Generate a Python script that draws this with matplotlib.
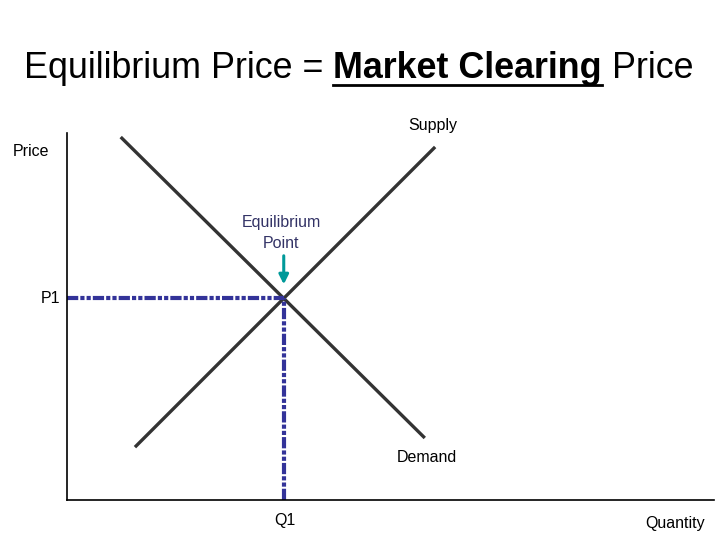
import matplotlib.pyplot as plt
from matplotlib.lines import Line2D

plt.rcParams['font.family'] = ['Liberation Sans', 'DejaVu Sans']

# curve end points (quantity, price), unitless 0..10 scale
demand_q = [0.83, 5.53]
demand_p = [9.89, 1.69]
supply_q = [1.05, 5.69]
supply_p = [1.44, 9.62]
eq_q = 3.35
eq_p = 5.50

fig = plt.figure(figsize=(7.2, 5.4), dpi=100)
ax = fig.add_axes([67 / 720, 40 / 540, 647 / 720, 367 / 540])
ax.set_xlim(0, 10)
ax.set_ylim(0, 10)
ax.spines['top'].set_visible(False)
ax.spines['right'].set_visible(False)
ax.spines['left'].set_linewidth(1.2)
ax.spines['bottom'].set_linewidth(1.2)
ax.set_xticks([])
ax.set_yticks([])

line_col = '#333333'
dash_col = '#333399'
ax.plot(demand_q, demand_p, color=line_col, lw=2.4, solid_capstyle='butt')
ax.plot(supply_q, supply_p, color=line_col, lw=2.4, solid_capstyle='butt')

dash = (2.7, 0.5, 1, 0.5, 1, 0.5)
ax.plot([0, eq_q], [eq_p, eq_p], color=dash_col, lw=3, dashes=dash, clip_on=False)
ax.plot([eq_q, eq_q], [0, eq_p], color=dash_col, lw=3, dashes=dash, clip_on=False)

ax.annotate('', xy=(eq_q, 5.80), xytext=(eq_q, 6.73),
            arrowprops=dict(arrowstyle='-|>', color='#009999', lw=2.2, mutation_scale=14))

lab_col = '#333366'
fs_lab = 11.5
ax.text(eq_q - 0.04, 7.28, 'Equilibrium\nPoint', ha='center', va='center', fontsize=fs_lab,
        color=lab_col, linespacing=1.45)
ax.text(5.66, 10.2, 'Supply', ha='center', va='center', fontsize=fs_lab, color='black')
ax.text(5.56, 1.15, 'Demand', ha='center', va='center', fontsize=fs_lab, color='black')
ax.text(-0.55, 9.5, 'Price', ha='center', va='center', fontsize=fs_lab, clip_on=False)
ax.text(-0.26, eq_p, 'P1', ha='center', va='center', fontsize=fs_lab, clip_on=False)
ax.text(eq_q + 0.02, -0.55, 'Q1', ha='center', va='center', fontsize=fs_lab, clip_on=False)
ax.text(9.4, -0.65, 'Quantity', ha='center', va='center', fontsize=fs_lab, clip_on=False)

# title in three parts, the middle bold and underlined
fs = 25.8
renderer = fig.canvas.get_renderer()
x0 = 24 / 720
ty = 1 - 68 / 540
parts = [('Equilibrium Price = ', 'normal'), ('Market Clearing', 'bold'), (' Price', 'normal')]
x = x0
for s, w in parts:
    t = fig.text(x, ty, s, fontsize=fs, fontweight=w, ha='left', va='center')
    bb = t.get_window_extent(renderer=renderer)
    x1 = x + bb.width / 720
    if w == 'bold':
        uy = ty - 17 / 540
        fig.add_artist(Line2D([x, x1], [uy, uy], color='black', lw=2, transform=fig.transFigure))
    x = x1

fig.savefig('out.png', dpi=100)
